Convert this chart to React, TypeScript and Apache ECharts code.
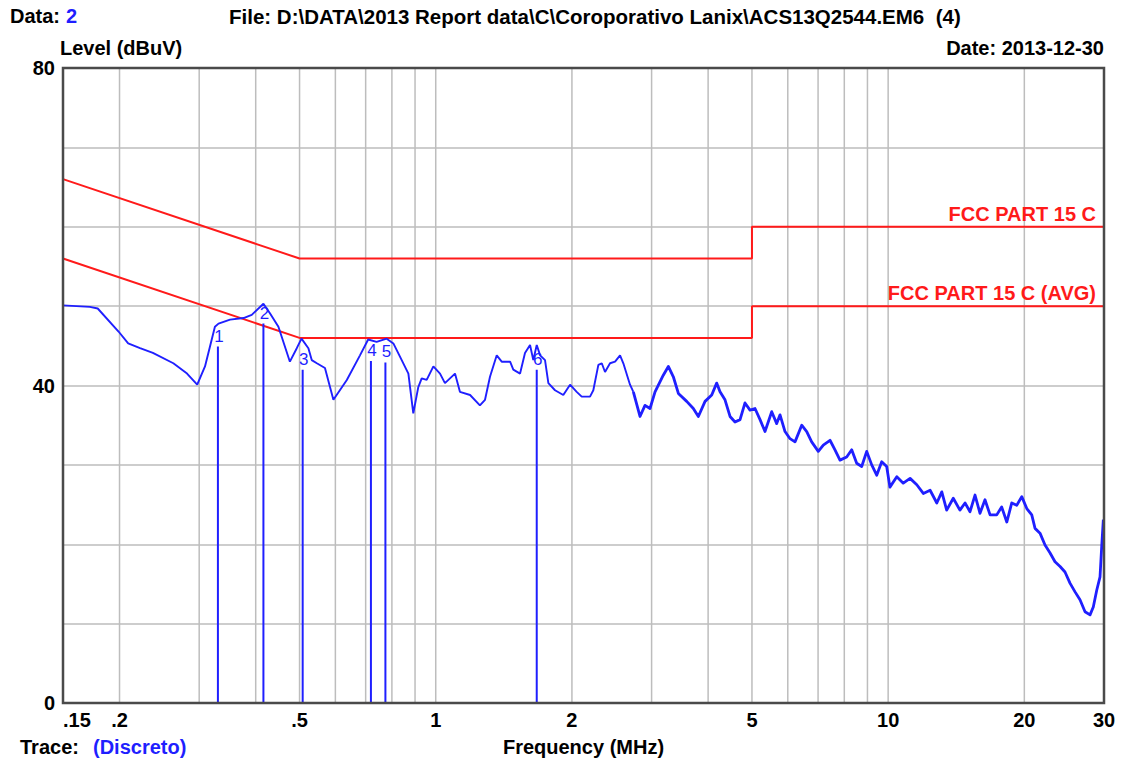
import React, { useEffect, useRef } from 'react';
import * as echarts from 'echarts';

// ---- data ----
const traceFreq = [
  0.150, 0.172, 0.179, 0.199, 0.209, 0.222, 0.237, 0.263, 0.282, 0.297,
  0.309, 0.325, 0.331, 0.351, 0.376, 0.392, 0.416, 0.430, 0.449, 0.476,
  0.493, 0.505, 0.523, 0.532, 0.546, 0.569, 0.594, 0.636, 0.680, 0.709,
  0.740, 0.779, 0.806, 0.841, 0.870, 0.892, 0.915, 0.931, 0.955, 0.988,
  1.022, 1.048, 1.103, 1.131, 1.191, 1.252, 1.285, 1.318, 1.364, 1.399,
  1.460, 1.484, 1.536, 1.575, 1.616, 1.643, 1.672, 1.701, 1.744, 1.774,
  1.835, 1.914, 1.981, 2.049, 2.102, 2.193, 2.230, 2.288, 2.328, 2.367,
  2.428, 2.491, 2.555, 2.598, 2.688, 2.734, 2.828, 2.901, 2.976, 3.053,
  3.184, 3.267, 3.351, 3.438, 3.587, 3.710, 3.806, 3.938, 4.074, 4.178,
  4.250, 4.359, 4.472, 4.587, 4.706, 4.826, 4.951, 5.078, 5.210, 5.343,
  5.529, 5.671, 5.768, 5.916, 6.069, 6.225, 6.441, 6.607, 6.776, 7.008,
  7.189, 7.438, 7.629, 7.826, 8.097, 8.307, 8.521, 8.741, 8.966, 9.198,
  9.434, 9.678, 9.926, 10.09, 10.45, 10.80, 11.18, 11.57, 11.96, 12.38,
  12.81, 13.14, 13.47, 13.93, 14.41, 14.79, 15.17, 15.56, 15.96, 16.37,
  16.80, 17.38, 17.82, 18.29, 18.76, 19.24, 19.74, 20.25, 20.77, 21.12,
  21.66, 22.22, 22.80, 23.38, 23.99, 24.60, 25.23, 25.89, 26.55, 27.24,
  27.94, 28.41, 28.91, 29.40, 29.65, 29.90,
];
const traceLevel = [
  50.1, 49.9, 49.7, 46.8, 45.3, 44.7, 44.1, 42.8, 41.5, 40.1,
  42.4, 47.4, 47.8, 48.3, 48.5, 48.9, 50.3, 49.1, 47.4, 43.0,
  44.7, 45.9, 44.7, 43.2, 42.8, 42.2, 38.2, 40.7, 43.8, 45.8,
  45.5, 45.9, 45.3, 43.2, 41.5, 36.5, 39.8, 40.9, 40.7, 42.4,
  41.5, 40.3, 41.5, 39.2, 38.8, 37.5, 38.2, 41.1, 43.8, 43.0,
  43.0, 42.0, 41.5, 44.1, 45.1, 43.2, 45.1, 43.8, 43.2, 40.3,
  39.4, 38.8, 40.1, 39.2, 38.6, 38.6, 39.4, 42.6, 42.8, 41.7,
  42.8, 43.0, 43.8, 42.8, 40.1, 39.2, 36.1, 37.5, 37.1, 39.2,
  41.3, 42.4, 41.1, 39.0, 38.0, 37.1, 36.1, 38.0, 38.8, 40.3,
  39.2, 38.2, 36.1, 35.4, 35.7, 37.8, 36.9, 37.1, 35.7, 34.2,
  36.7, 35.2, 36.3, 34.2, 33.3, 32.9, 35.0, 34.2, 32.9, 31.7,
  32.5, 33.1, 31.9, 30.6, 31.0, 31.9, 30.2, 29.8, 31.7, 30.0,
  28.7, 30.4, 29.8, 27.2, 28.5, 27.7, 28.3, 27.5, 26.4, 26.8,
  25.2, 26.6, 24.3, 25.8, 24.3, 25.2, 24.1, 26.2, 23.9, 25.6,
  23.7, 23.7, 24.7, 22.8, 25.2, 24.9, 26.0, 24.5, 23.7, 22.0,
  21.4, 19.9, 18.9, 17.8, 17.2, 16.5, 15.1, 14.0, 13.0, 11.5,
  11.1, 12.1, 14.2, 15.9, 19.7, 23.1,
];
// above this frequency the scan is dense/noisy and is drawn as a heavier band
const noisyFromFreq = 2.7;
const qpLimitFreq = [0.15, 0.5, 5, 5, 30];
const qpLimitLevel = [66, 56, 56, 60, 60];
const avgLimitFreq = [0.15, 0.5, 5, 5, 30];
const avgLimitLevel = [56, 46, 46, 50, 50];
const markerLabels = ['1', '2', '3', '4', '5', '6'];
const markerFreq = [0.330, 0.416, 0.508, 0.719, 0.774, 1.672];
const markerLevel = [44.9, 47.8, 42.0, 43.1, 42.9, 42.0];
const gridFreqs = [0.2, 0.3, 0.4, 0.5, 0.6, 0.7, 0.8, 0.9, 1, 2, 3, 4, 5, 6, 7, 8, 9, 10, 20];
const tickFreqs = [0.15, 0.2, 0.5, 1, 2, 5, 10, 20, 30];
const tickLabels = ['.15', '.2', '.5', '1', '2', '5', '10', '20', '30'];
const yLabelValues = [0, 40, 80];

const lg = Math.log10;
const FONT = "'Liberation Sans', Arial, Helvetica, sans-serif";
const BLUE = '#1f1fff';
const RED = '#ff1a1a';
const GRID = '#bdbdbd';

export default function App() {
  const ref = useRef<HTMLDivElement>(null);

  useEffect(() => {
    if (!ref.current) return;
    const chart = echarts.init(ref.current, null, { renderer: 'svg' });

    const boldText = { fontFamily: FONT, fontWeight: 'bold', fontSize: 20, color: '#000' };

    const tracePoints = traceFreq.map((f, i) => [lg(f), traceLevel[i]]);
    const splitIdx = traceFreq.findIndex((f) => f >= noisyFromFreq);
    const traceLow = tracePoints.slice(0, splitIdx + 1);
    const traceHigh = tracePoints.slice(splitIdx);

    const option: any = {
      animation: false,
      backgroundColor: '#ffffff',
      grid: { left: 63, right: 19, top: 68, bottom: 55, show: false, containLabel: false, outerBoundsMode: 'none' },
      xAxis: {
        type: 'value',
        min: lg(0.15),
        max: lg(30),
        axisLine: { show: false },
        axisTick: { show: false },
        splitLine: { show: false },
        name: 'Frequency (MHz)',
        nameLocation: 'middle',
        nameGap: 34,
        nameTextStyle: { ...boldText },
        axisLabel: {
          ...boldText,
          margin: 7,
          customValues: tickFreqs.map(lg),
          alignMinLabel: 'left',
          formatter: (v: number) => {
            const i = tickFreqs.findIndex((f) => Math.abs(lg(f) - v) < 1e-6);
            return i >= 0 ? tickLabels[i] : '';
          },
        },
      },
      yAxis: {
        type: 'value',
        min: 0,
        max: 80,
        interval: 10,
        axisLine: { show: false },
        axisTick: { show: false },
        splitLine: { show: true, lineStyle: { color: GRID, width: 1.5 } },
        axisLabel: {
          ...boldText,
          margin: 8,
          formatter: (v: number) => (yLabelValues.includes(v) ? String(v) : ''),
        },
      },
      graphic: [
        { type: 'text', x: 10, y: 16, style: { text: 'Data:', fill: '#000', fontFamily: FONT, fontWeight: 'bold', fontSize: 20, verticalAlign: 'middle' } },
        { type: 'text', x: 66, y: 16, style: { text: '2', fill: BLUE, fontFamily: FONT, fontWeight: 'bold', fontSize: 20, verticalAlign: 'middle' } },
        { type: 'text', x: 229, y: 16, style: { text: 'File: D:\\DATA\\2013 Report data\\C\\Coroporativo Lanix\\ACS13Q2544.EM6  (4)', fill: '#000', fontFamily: FONT, fontWeight: 'bold', fontSize: 20.5, verticalAlign: 'middle' } },
        { type: 'text', x: 60, y: 48, style: { text: 'Level (dBuV)', fill: '#000', fontFamily: FONT, fontWeight: 'bold', fontSize: 20, verticalAlign: 'middle' } },
        { type: 'text', x: 1104, y: 48, style: { text: 'Date: 2013-12-30', fill: '#000', fontFamily: FONT, fontWeight: 'bold', fontSize: 20, align: 'right', verticalAlign: 'middle' } },
        { type: 'text', x: 20, y: 747, style: { text: 'Trace:', fill: '#000', fontFamily: FONT, fontWeight: 'bold', fontSize: 20, verticalAlign: 'middle' } },
        { type: 'text', x: 93, y: 747, style: { text: '(Discreto)', fill: BLUE, fontFamily: FONT, fontWeight: 'bold', fontSize: 20, verticalAlign: 'middle' } },
      ],
      series: [
        {
          name: 'vgrid',
          type: 'custom',
          silent: true,
          z: 1,
          encode: { x: 0, y: 1 },
          data: gridFreqs.map((f) => [lg(f), 0]),
          renderItem: (params: any, api: any) => {
            const top = api.coord([api.value(0), 80]);
            const bot = api.coord([api.value(0), 0]);
            return {
              type: 'line',
              shape: { x1: top[0], y1: top[1], x2: bot[0], y2: bot[1] },
              style: { stroke: GRID, lineWidth: 1.5 },
            };
          },
        },
        {
          name: 'FCC PART 15 C',
          type: 'line',
          z: 3,
          symbol: 'none',
          silent: true,
          lineStyle: { color: RED, width: 2 },
          data: qpLimitFreq.map((f, i) => [lg(f), qpLimitLevel[i]]),
          markPoint: {
            symbol: 'circle',
            symbolSize: 0,
            silent: true,
            data: [
              {
                coord: [lg(30), 60],
                label: {
                  show: true,
                  formatter: 'FCC PART 15 C',
                  position: [-8, -3],
                  align: 'right',
                  verticalAlign: 'bottom',
                  fontFamily: FONT,
                  fontWeight: 'bold',
                  fontSize: 20,
                  color: RED,
                },
              },
            ],
          },
        },
        {
          name: 'FCC PART 15 C (AVG)',
          type: 'line',
          z: 3,
          symbol: 'none',
          silent: true,
          lineStyle: { color: RED, width: 2 },
          data: avgLimitFreq.map((f, i) => [lg(f), avgLimitLevel[i]]),
          markPoint: {
            symbol: 'circle',
            symbolSize: 0,
            silent: true,
            data: [
              {
                coord: [lg(30), 50],
                label: {
                  show: true,
                  formatter: 'FCC PART 15 C (AVG)',
                  position: [-8, -3],
                  align: 'right',
                  verticalAlign: 'bottom',
                  fontFamily: FONT,
                  fontWeight: 'bold',
                  fontSize: 20,
                  color: RED,
                },
              },
            ],
          },
        },
        {
          name: 'Trace',
          type: 'line',
          z: 4,
          symbol: 'none',
          silent: true,
          lineStyle: { color: BLUE, width: 1.9 },
          data: traceLow,
        },
        {
          name: 'Trace (dense)',
          type: 'line',
          z: 4,
          symbol: 'none',
          silent: true,
          lineStyle: { color: BLUE, width: 2.8, join: 'round' },
          data: traceHigh,
        },
        {
          name: 'markers',
          type: 'custom',
          z: 5,
          silent: true,
          encode: { x: 0, y: 1 },
          data: markerFreq.map((f, i) => [lg(f), markerLevel[i], i]),
          renderItem: (params: any, api: any) => {
            const x = api.value(0);
            const lvl = api.value(1);
            const idx = api.value(2);
            const p0 = api.coord([x, 0]);
            const p1 = api.coord([x, lvl]);
            return {
              type: 'group',
              children: [
                {
                  type: 'line',
                  shape: { x1: p0[0], y1: p0[1], x2: p1[0], y2: p1[1] },
                  style: { stroke: BLUE, lineWidth: 2 },
                },
                {
                  type: 'text',
                  x: p1[0] + 1,
                  y: p1[1] - 2,
                  style: {
                    text: markerLabels[idx],
                    fill: BLUE,
                    fontFamily: FONT,
                    fontSize: 17,
                    align: 'center',
                    verticalAlign: 'bottom',
                  },
                },
              ],
            };
          },
        },
        {
          name: 'frame',
          type: 'custom',
          z: 10,
          silent: true,
          encode: { x: 0, y: 1 },
          data: [[lg(0.15), 0]],
          renderItem: (params: any) => {
            const cs = params.coordSys;
            return {
              type: 'rect',
              shape: { x: cs.x, y: cs.y, width: cs.width, height: cs.height },
              style: { fill: 'none', stroke: '#4a4a4a', lineWidth: 2.5 },
            };
          },
        },
      ],
    };

    chart.setOption(option);
    return () => chart.dispose();
  }, []);

  return (
    <div
      ref={ref}
      style={{ position: 'fixed', left: 0, top: 0, width: 1123, height: 758, background: '#fff' }}
    />
  );
}
